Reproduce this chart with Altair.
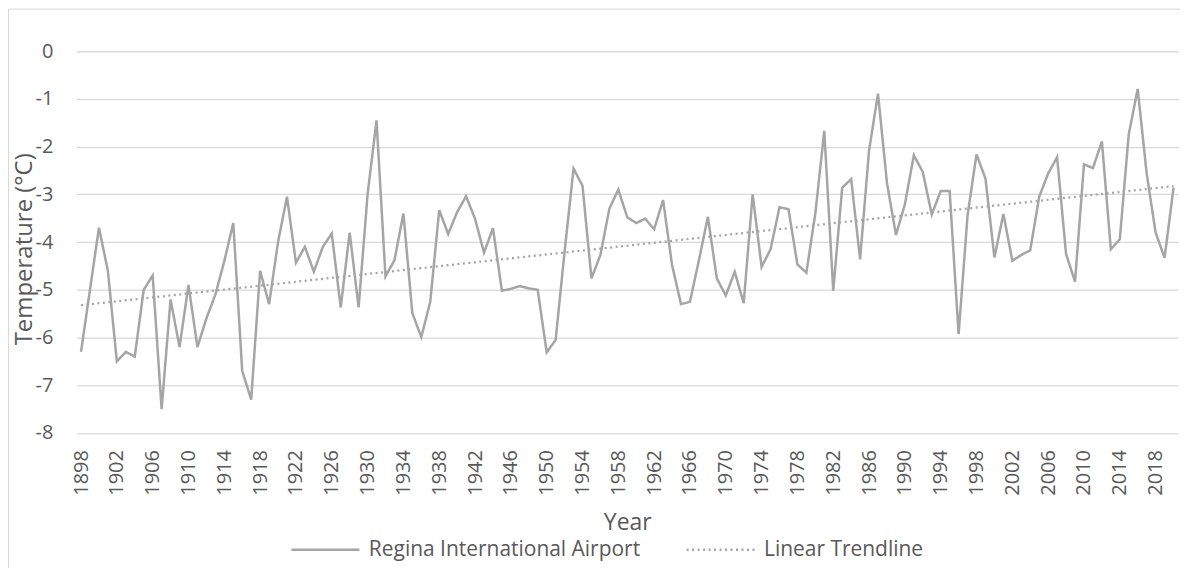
import altair as alt
import pandas as pd

years = list(range(1898, 2021))
temps = [
    -6.3, -5.0, -3.7, -4.6, -6.5, -6.3, -6.4, -5.0, -4.7, -7.5,
    -5.2, -6.2, -4.9, -6.2, -5.6, -5.1, -4.4, -3.6, -6.7, -7.3,
    -4.6, -5.3, -4.0, -3.05, -4.43, -4.1, -4.62, -4.1, -3.82, -5.37,
    -3.8, -5.37, -3.0, -1.45, -4.72, -4.38, -3.4, -5.49, -5.99, -5.25,
    -3.33, -3.83, -3.37, -3.04, -3.51, -4.22, -3.71, -5.02, -4.98, -4.92,
    -4.97, -5.0, -6.31, -6.05, -4.2, -2.46, -2.82, -4.76, -4.27, -3.3,
    -2.9, -3.48, -3.6, -3.51, -3.73, -3.12, -4.48, -5.3, -5.25, -4.38,
    -3.47, -4.76, -5.12, -4.62, -5.28, -3.0, -4.52, -4.15, -3.27, -3.31,
    -4.47, -4.64, -3.4, -1.67, -5.02, -2.86, -2.68, -4.36, -2.08, -0.89,
    -2.76, -3.85, -3.21, -2.18, -2.53, -3.42, -2.93, -2.93, -5.93, -3.44,
    -2.16, -2.67, -4.32, -3.41, -4.39, -4.27, -4.17, -3.05, -2.56, -2.22,
    -4.25, -4.83, -2.37, -2.45, -1.89, -4.15, -3.94, -1.74, -0.79, -2.56,
    -3.8, -4.33, -2.86,
]
y_ticks = [-8, -7, -6, -5, -4, -3, -2, -1, 0]
x_ticks = list(range(1898, 2019, 4))
series_names = ["Regina International Airport", "Linear Trendline"]

df = pd.DataFrame({"Year": years, "Temp": temps})

GRAY = "#A5A5A5"
TEXT = "#595959"
FONT = "Open Sans"
W, H = 1104, 382.6

legend = alt.Legend(
    title=None, orient="none", direction="horizontal",
    legendX=214, legendY=464, padding=0,
    symbolType="stroke", symbolSize=4624, symbolStrokeWidth=2.5,
    labelFont=FONT, labelFontSize=21, labelColor=TEXT, labelOffset=8,
    labelLimit=0, columnPadding=40,
)

x_enc = alt.X(
    "Year:Q",
    scale=alt.Scale(domain=[1897.5, 2020.5], nice=False, zero=False),
    axis=alt.Axis(
        values=x_ticks, format="d", labelAngle=270, labelPadding=16.7,
        labelFont=FONT, labelFontSize=20, labelColor=TEXT,
        labelOverlap=False, labelFlush=False,
        grid=False, domain=False, ticks=False,
        title="Year", titleFont=FONT, titleFontSize=23, titleColor=TEXT,
        titleFontWeight="normal", titleX=W / 2, titleY=89.7,
        titleBaseline="middle", titleAlign="center",
    ),
)
y_enc = alt.Y(
    "Temp:Q",
    scale=alt.Scale(domain=[-8, 0], nice=False, zero=False),
    axis=alt.Axis(
        values=y_ticks, labelExpr="'' + datum.value", labelPadding=23.7,
        labelFont=FONT, labelFontSize=20, labelColor=TEXT,
        grid=True, gridColor="#D9D9D9", gridWidth=1.3,
        domain=False, ticks=False,
        title="Temperature (°C)", titleFont=FONT, titleFontSize=24,
        titleColor=TEXT, titleFontWeight="normal", titleAngle=270,
        titleX=-52, titleY=198, titleBaseline="middle", titleAlign="center",
    ),
)
color_enc = alt.Color(
    "series:N",
    scale=alt.Scale(domain=series_names, range=[GRAY, GRAY]),
    legend=legend,
)
dash_enc = alt.StrokeDash(
    "series:N",
    scale=alt.Scale(domain=series_names, range=[[1, 0], [2, 3.5]]),
    legend=legend,
)

base = alt.Chart(df)

line = base.transform_calculate(
    series='"Regina International Airport"'
).mark_line(strokeWidth=2.5).encode(
    x=x_enc, y=y_enc, color=color_enc, strokeDash=dash_enc
)

trend = base.transform_regression(
    "Year", "Temp", method="linear", extent=[1898, 2020]
).transform_calculate(
    series='"Linear Trendline"'
).mark_line(strokeWidth=2.25).encode(
    x=x_enc, y=y_enc, color=color_enc, strokeDash=dash_enc
)

border = alt.Chart(pd.DataFrame({"a": [0]})).mark_rect(
    fill=None, stroke="#D9D9D9", strokeWidth=1
).encode(
    x=alt.value(-68.2), x2=alt.value(W + 50),
    y=alt.value(-42.2), y2=alt.value(H + 200),
)

chart = alt.layer(border, line, trend).properties(
    width=W, height=H,
    padding={"left": 68.7, "top": 42.7, "right": 2, "bottom": 134.7},
    autosize=alt.AutoSizeParams(type="none"),
    background="white",
).configure_view(strokeWidth=0)

chart.save("out.html", embed_options={"renderer": "svg", "actions": False})
